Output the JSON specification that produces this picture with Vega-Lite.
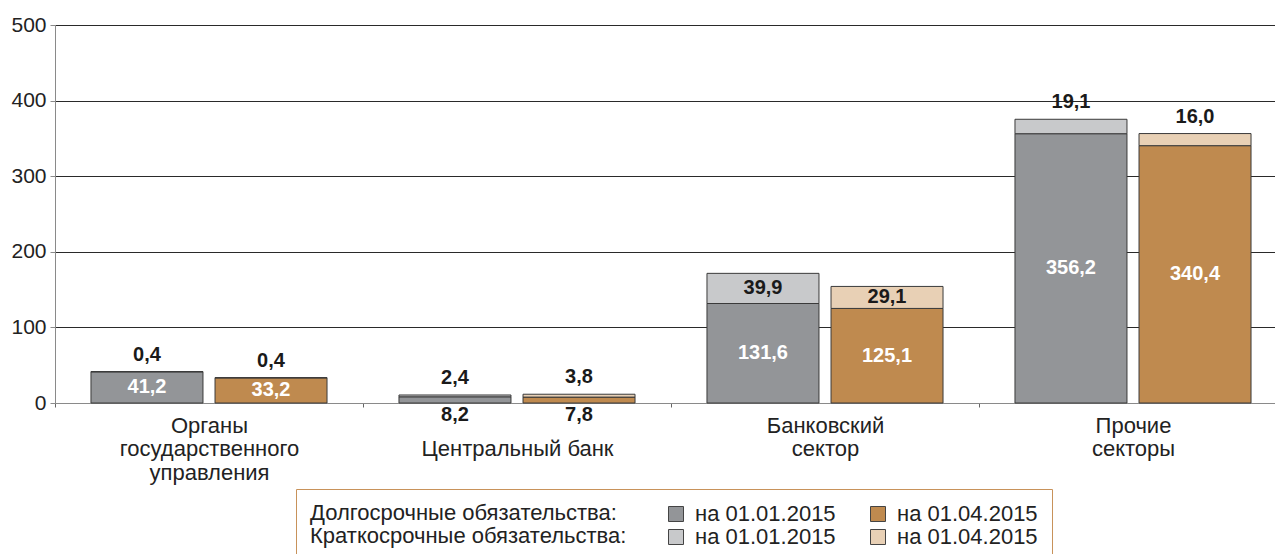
{
  "$schema": "https://vega.github.io/schema/vega-lite/v6.json",
  "width": 1220,
  "height": 378,
  "autosize": {"type": "none"},
  "padding": {"left": 55, "top": 25, "right": 0, "bottom": 151},
  "background": "white",
  "config": {
    "locale": {"number": {"decimal": ",", "thousands": " ", "grouping": [3], "currency": ["", ""]}},
    "font": "Liberation Sans",
    "view": {"stroke": null}
  },
  "data": {
    "values": [
      {"cat": "Органы государственного управления", "date": "01.01.2015", "term": "L", "key": "Долгосрочные: на 01.01.2015", "value": 41.2},
      {"cat": "Органы государственного управления", "date": "01.01.2015", "term": "S", "key": "Краткосрочные: на 01.01.2015", "value": 0.4},
      {"cat": "Органы государственного управления", "date": "01.04.2015", "term": "L", "key": "Долгосрочные: на 01.04.2015", "value": 33.2},
      {"cat": "Органы государственного управления", "date": "01.04.2015", "term": "S", "key": "Краткосрочные: на 01.04.2015", "value": 0.4},
      {"cat": "Центральный банк", "date": "01.01.2015", "term": "L", "key": "Долгосрочные: на 01.01.2015", "value": 8.2},
      {"cat": "Центральный банк", "date": "01.01.2015", "term": "S", "key": "Краткосрочные: на 01.01.2015", "value": 2.4},
      {"cat": "Центральный банк", "date": "01.04.2015", "term": "L", "key": "Долгосрочные: на 01.04.2015", "value": 7.8},
      {"cat": "Центральный банк", "date": "01.04.2015", "term": "S", "key": "Краткосрочные: на 01.04.2015", "value": 3.8},
      {"cat": "Банковский сектор", "date": "01.01.2015", "term": "L", "key": "Долгосрочные: на 01.01.2015", "value": 131.6},
      {"cat": "Банковский сектор", "date": "01.01.2015", "term": "S", "key": "Краткосрочные: на 01.01.2015", "value": 39.9},
      {"cat": "Банковский сектор", "date": "01.04.2015", "term": "L", "key": "Долгосрочные: на 01.04.2015", "value": 125.1},
      {"cat": "Банковский сектор", "date": "01.04.2015", "term": "S", "key": "Краткосрочные: на 01.04.2015", "value": 29.1},
      {"cat": "Прочие секторы", "date": "01.01.2015", "term": "L", "key": "Долгосрочные: на 01.01.2015", "value": 356.2},
      {"cat": "Прочие секторы", "date": "01.01.2015", "term": "S", "key": "Краткосрочные: на 01.01.2015", "value": 19.1},
      {"cat": "Прочие секторы", "date": "01.04.2015", "term": "L", "key": "Долгосрочные: на 01.04.2015", "value": 340.4},
      {"cat": "Прочие секторы", "date": "01.04.2015", "term": "S", "key": "Краткосрочные: на 01.04.2015", "value": 16.0}
    ]
  },
  "encoding": {
    "x": {
      "field": "cat",
      "type": "nominal",
      "sort": ["Органы государственного управления", "Центральный банк", "Банковский сектор", "Прочие секторы"],
      "scale": {"range": [0, 1232], "paddingInner": 0, "paddingOuter": 0},
      "axis": {
        "title": null,
        "labelAngle": 0,
        "labelFontSize": 22,
        "labelColor": "#222222",
        "labelPadding": 8,
        "labelLineHeight": 23.5,
        "labelLimit": 400,
        "labelExpr": "datum.value == 'Органы государственного управления' ? ['Органы', 'государственного', 'управления'] : datum.value == 'Банковский сектор' ? ['Банковский', 'сектор'] : datum.value == 'Прочие секторы' ? ['Прочие', 'секторы'] : ['', datum.label]",
        "domainColor": "#8a8a8a",
        "domainWidth": 1,
        "ticks": true,
        "tickBand": "extent",
        "tickSize": 4,
        "tickColor": "#666666",
        "grid": false
      }
    },
    "xOffset": {
      "field": "date",
      "type": "nominal",
      "scale": {"paddingInner": 0.097, "paddingOuter": 0.29}
    },
    "y": {
      "field": "value",
      "type": "quantitative",
      "stack": "zero",
      "title": null,
      "scale": {"domain": [0, 500], "nice": false},
      "axis": {
        "title": null,
        "values": [0, 100, 200, 300, 400, 500],
        "format": "d",
        "grid": true,
        "gridColor": {"condition": {"test": "datum.value == 0", "value": "#8a8a8a"}, "value": "#2a2a2a"},
        "gridWidth": 1,
        "domain": true,
        "domainColor": "#8a8a8a",
        "ticks": true,
        "tickColor": "#8a8a8a",
        "tickSize": 5,
        "labelFontSize": 21,
        "labelColor": "#222222",
        "labelPadding": 4
      }
    },
    "order": {"field": "term", "sort": "ascending"}
  },
  "layer": [
    {
      "mark": {"type": "bar", "stroke": "#3a3a3a", "strokeWidth": 1},
      "encoding": {
        "color": {
          "field": "key",
          "type": "nominal",
          "scale": {
            "domain": ["Долгосрочные: на 01.01.2015", "Долгосрочные: на 01.04.2015", "Краткосрочные: на 01.01.2015", "Краткосрочные: на 01.04.2015"],
            "range": ["#939598", "#bf8a4f", "#c8c9cb", "#e8d0b5"]
          },
          "legend": {
            "orient": "none",
            "legendX": 241,
            "legendY": 464,
            "columns": 2,
            "direction": "horizontal",
            "title": ["Долгосрочные обязательства:", "Краткосрочные обязательства:"],
            "titleOrient": "left",
            "titleAnchor": "start",
            "titleBaseline": "top",
            "titleFontSize": 22,
            "titleFontWeight": "normal",
            "titleColor": "#222222",
            "titleLineHeight": 23,
            "titlePadding": 38,
            "titleLimit": 400,
            "labelExpr": "split(datum.label, ': ')[1]",
            "labelFontSize": 22,
            "labelColor": "#222222",
            "labelOffset": 8,
            "labelLimit": 300,
            "symbolType": "square",
            "symbolSize": 225,
            "symbolStrokeColor": "#444444",
            "symbolStrokeWidth": 1,
            "symbolOpacity": 1,
            "columnPadding": 31,
            "rowPadding": 1,
            "padding": 14,
            "strokeColor": "#c8925a",
            "fillColor": "white"
          }
        }
      }
    },
    {
      "mark": {"type": "text", "fontSize": 20, "fontWeight": "bold", "baseline": "middle", "align": "center"},
      "encoding": {
        "y": {"field": "value", "type": "quantitative", "stack": "zero", "bandPosition": 0.5, "title": null},
        "detail": {"field": "term"},
        "color": {"condition": {"test": "datum.term == 'L'", "value": "white"}, "value": "#1a1a1a"},
        "text": {
          "condition": {"test": "(datum.term == 'L' && datum.cat != 'Центральный банк') || (datum.term == 'S' && datum.cat == 'Банковский сектор')", "field": "value", "type": "quantitative", "format": ".1f"},
          "value": ""
        }
      }
    },
    {
      "mark": {"type": "text", "fontSize": 20, "fontWeight": "bold", "baseline": "middle", "align": "center", "dy": -17, "color": "#1a1a1a"},
      "encoding": {
        "y": {"field": "value", "type": "quantitative", "stack": "zero", "title": null},
        "detail": {"field": "term"},
        "text": {
          "condition": {"test": "datum.term == 'S' && datum.cat != 'Банковский сектор'", "field": "value", "type": "quantitative", "format": ".1f"},
          "value": ""
        }
      }
    },
    {
      "mark": {"type": "text", "fontSize": 20, "fontWeight": "bold", "baseline": "middle", "align": "center", "dy": 12, "color": "#1a1a1a"},
      "encoding": {
        "y": {"datum": 0, "type": "quantitative", "title": null},
        "text": {
          "condition": {"test": "datum.term == 'L' && datum.cat == 'Центральный банк'", "field": "value", "type": "quantitative", "format": ".1f"},
          "value": ""
        }
      }
    }
  ]
}
